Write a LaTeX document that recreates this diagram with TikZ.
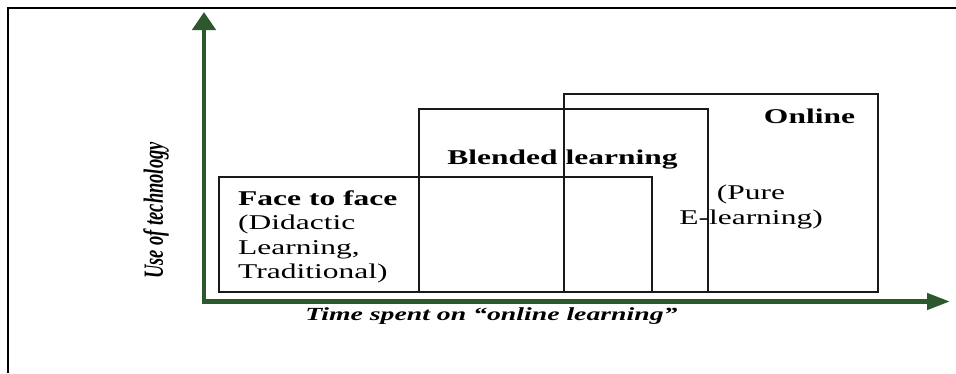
\documentclass[tikz,border=0pt]{standalone}
\usepackage{fontspec}
\usetikzlibrary{shapes, arrows.meta}
\newfontfamily\boxfont[FakeStretch=1.5]{Liberation Serif}
\newfontfamily\tallfont[FakeStretch=0.6667]{Liberation Serif}
\definecolor{axisgreen}{RGB}{44,88,46}
\definecolor{boxline}{RGB}{25,25,25}
\tikzset{
  frameline/.style={line width=2.5pt},
  stage/.style={draw=boxline, line width=1.7pt, rectangle, inner sep=0pt, anchor=south west},
  axis/.style={draw=axisgreen, line width=4.5pt, line cap=rect},
  boxtext/.style={inner sep=0pt, font=\boxfont\fontsize{21}{24.5}\selectfont},
  axislabel/.style={inner sep=0pt, font=\boxfont\bfseries\itshape\fontsize{18.5}{20}\selectfont},
}

\begin{document}
\begin{tikzpicture}[x=1pt, y=-1pt]
        \useasboundingbox (0,0) rectangle (956,373);
        \draw[frameline] (8,373) -- (8,8) -- (956,8);
        % the three stages
        \node[stage, minimum width=433pt, minimum height=115pt] (face) at (218,293) {};
        \node[stage, minimum width=289pt, minimum height=183pt] (blended) at (418,293) {};
        \node[stage, minimum width=314pt, minimum height=198pt] (online) at (563,293) {};
        \node[boxtext, anchor=north west, align=left] (facetext) at (238,190.5)
        {\textbf{Face to face}\\(Didactic\\Learning,\\Traditional)};
        \node[boxtext, anchor=base] (blendedtext) at (562.5,164) {\textbf{Blended learning}};
        \node[boxtext, anchor=base] (onlinetext) at (809.5,123) {\textbf{Online}};
        \node[boxtext, anchor=north, align=center] (puretext) at (751,185)
        {(Pure\\E-learning)};
        % axes
        \coordinate (origin) at (204,301.5);
        \coordinate (ytip) at (204,12);
        \coordinate (xtip) at (950,301.5);
        \draw[axis, -{Triangle[length=18pt, width=23pt]}] (origin) -- (ytip);
        \draw[axis, -{Triangle[length=23pt, width=16pt]}] (origin) -- (xtip);
        \node[axislabel, anchor=base] (xlabel) at (491.5,320) {Time spent on “online learning”};
        \node[inner sep=0pt, rotate=90, font=\tallfont\bfseries\itshape\fontsize{27.75}{30}\selectfont]
        (ylabel) at (156,210.5) {Use of technology};
    \end{tikzpicture}
\end{document}
